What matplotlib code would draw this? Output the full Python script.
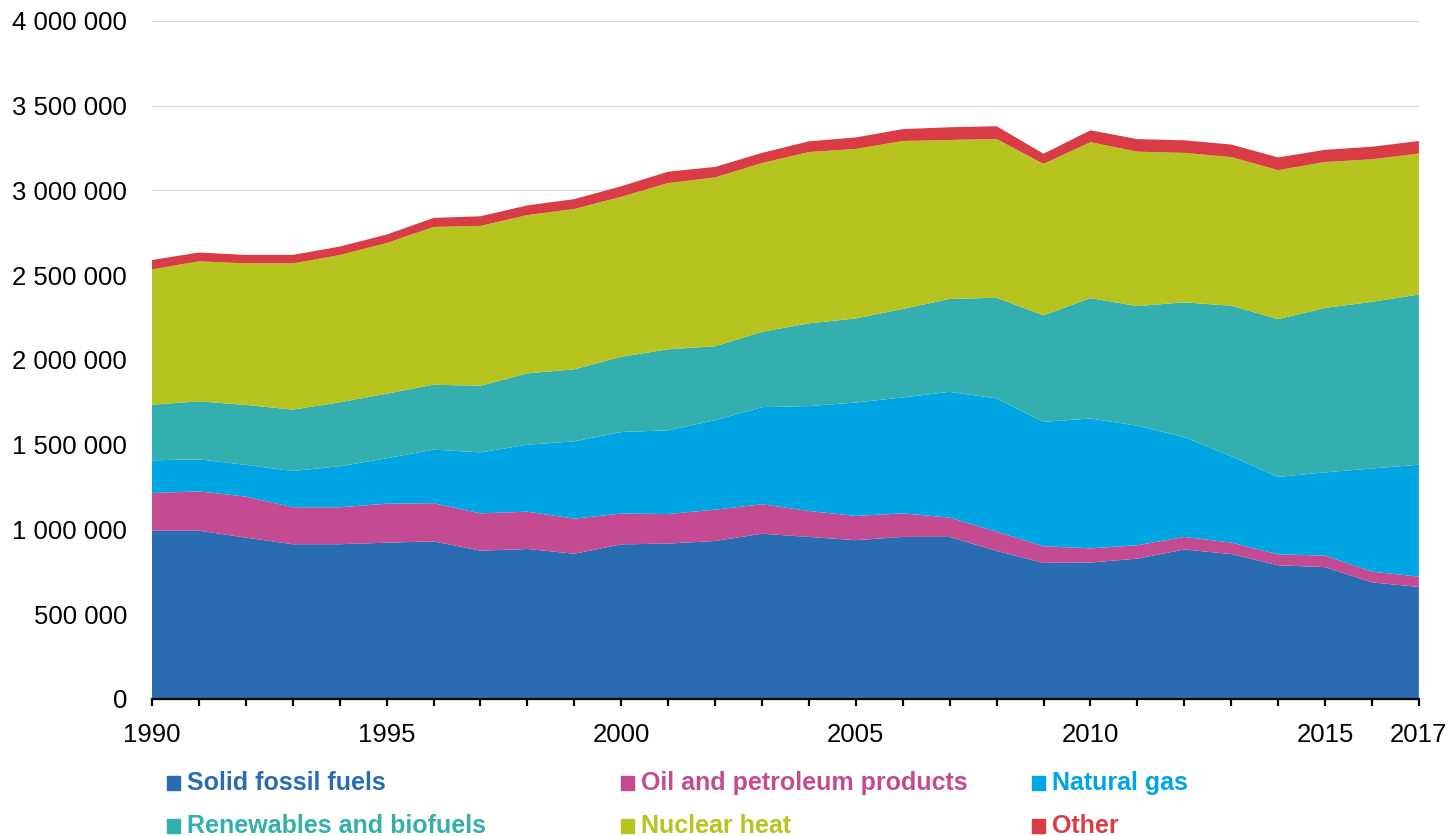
import numpy as np
import matplotlib.pyplot as plt
from matplotlib.patches import Rectangle
from matplotlib.ticker import FuncFormatter

plt.rcParams['font.family'] = ['Liberation Sans', 'DejaVu Sans']

years = list(range(1990, 2018))

# thousand tonnes of oil equivalent
solid = [993, 993, 952, 913, 913, 922, 930, 875, 885, 857,
         912, 917, 932, 975, 956, 937, 956, 956, 873, 803,
         805, 828, 882, 855, 789, 778, 688, 661]
oil = [222, 232, 242, 218, 218, 230, 225, 220, 220, 207,
       182, 174, 185, 174, 153, 143, 139, 114, 114, 98,
       84, 79, 74, 68, 64, 68, 63, 61]
gas = [193, 189, 187, 214, 242, 268, 316, 360, 395, 456,
       481, 494, 528, 573, 619, 669, 684, 742, 786, 734,
       766, 705, 589, 509, 457, 491, 609, 660]
renew = [328, 342, 354, 362, 377, 381, 383, 393, 421, 425,
         444, 478, 436, 444, 488, 496, 522, 548, 594, 628,
         710, 706, 795, 888, 931, 970, 983, 1004]
nuclear = [799, 826, 835, 863, 869, 889, 931, 943, 934, 946,
           944, 981, 996, 996, 1011, 1000, 991, 938, 937, 894,
           920, 911, 882, 877, 879, 861, 841, 832]
other = [55, 52, 50, 50, 50, 50, 53, 57, 57, 58,
         62, 67, 62, 60, 63, 68, 70, 75, 75, 60,
         70, 74, 74, 74, 75, 72, 74, 74]

labels = ['Solid fossil fuels', 'Oil and petroleum products', 'Natural gas',
          'Renewables and biofuels', 'Nuclear heat', 'Other']
colors = ['#2a6cb2', '#c44b91', '#00a5e3', '#32afae', '#b7c31e', '#d93c44']

series = [np.array(s) * 1000 for s in [solid, oil, gas, renew, nuclear, other]]

fig = plt.figure(figsize=(14.52, 8.36), dpi=100)
ax = fig.add_axes([0.1047, 0.1639, 0.8725, 0.811])

ax.stackplot(years, *series, colors=colors, linewidth=0)

ax.set_xlim(1990, 2017)
ax.set_ylim(0, 4000000)
ax.set_yticks(np.arange(0, 4000001, 500000))
ax.yaxis.set_major_formatter(FuncFormatter(lambda v, p: f'{int(v):,}'.replace(',', ' ')))
ax.grid(axis='y', color='#d9d9d9', linewidth=0.9)
ax.set_axisbelow(True)

ax.set_xticks(years)
ax.set_xticklabels([str(y) if y in (1990, 1995, 2000, 2005, 2010, 2015, 2017) else '' for y in years])
ax.tick_params(axis='x', direction='out', length=5, width=1.6, labelsize=18.5, pad=12, color='black')
ax.tick_params(axis='y', length=0, labelsize=18.5, pad=18)

for s in ['top', 'right', 'left']:
    ax.spines[s].set_visible(False)
ax.spines['bottom'].set_linewidth(1.6)

# legend drawn by hand, coloured bold text
col_x = [167, 621, 1032]
row_y = [783, 826]
W, H = 1452, 836
for i, (lab, c) in enumerate(zip(labels, colors)):
    x = col_x[i % 3]
    y = row_y[i // 3]
    fig.patches.append(Rectangle((x / W, 1 - (y + 7) / H), 13 / W, 14 / H,
                                 transform=fig.transFigure, color=c))
    fig.text((x + 20) / W, 1 - y / H, lab, color=c, fontsize=18,
             fontweight='bold', va='center', ha='left')

fig.savefig('out.png', dpi=100)
